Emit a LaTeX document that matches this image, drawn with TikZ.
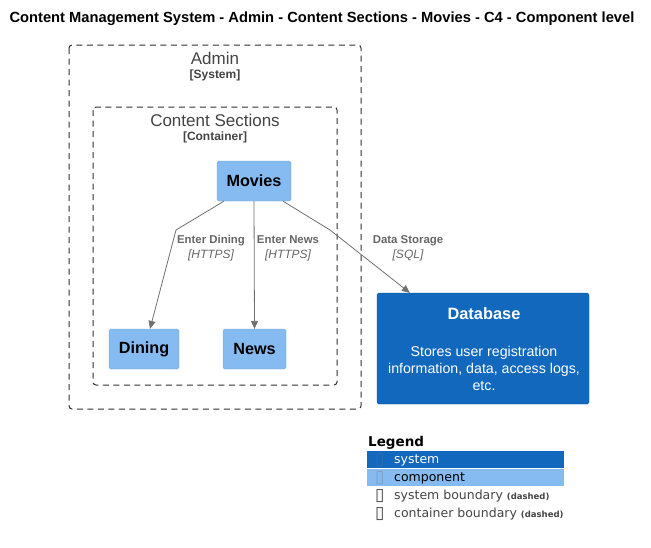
\documentclass[tikz,border=0pt]{standalone}
\usepackage{fontspec}
\setmainfont{Liberation Sans}
\newfontfamily\symfont{DejaVu Sans}
\usepackage{xcolor}
\usetikzlibrary{positioning, arrows.meta, calc}

\definecolor{sysblue}{HTML}{1168BD}
\definecolor{compblue}{HTML}{85BBF0}
\definecolor{edgegray}{HTML}{707070}
\definecolor{labelgray}{HTML}{666666}
\definecolor{boundgray}{HTML}{444444}

\begin{document}
\begin{tikzpicture}[x=1pt, y=-1pt,
    componentnode/.style={rectangle, rounded corners=1.5pt, fill=compblue, draw=compblue!85!black, line width=0.3pt, font=\fontsize{16.2}{18}\selectfont\bfseries, text=black},
    systemnode/.style={rectangle, rounded corners=1.5pt, fill=sysblue, draw=sysblue!85!black, line width=0.3pt, text=white, align=center},
    boundarybox/.style={draw=boundgray!70!black, dash pattern=on 6pt off 4.5pt, rounded corners=3pt, line width=1pt},
    relline/.style={draw=edgegray, line width=0.8pt, -{Triangle[length=8pt, width=7pt]}},
    rellabel/.style={text=labelgray, align=center, font=\fontsize{11.4}{15}\selectfont\bfseries},
    legendrow/.style={anchor=west, minimum width=197pt, minimum height=17pt, inner sep=0pt},
    legendtext/.style={anchor=west, inner sep=0pt, font=\symfont\fontsize{12.5}{14}\selectfont},
    legendbox/.style={anchor=west, inner sep=0pt, font=\symfont\fontsize{17}{17}\selectfont}
]
\useasboundingbox (0,0) rectangle (651,547);

% title
\node[font=\fontsize{14.7}{17}\selectfont\bfseries](title) at (322,19){Content Management System - Admin - Content Sections - Movies - C4 - Component level};

% boundaries
\draw[boundarybox] (69,45) rectangle (361,409);
\node[text=boundgray, font=\fontsize{17}{19}\selectfont](admin) at (215,58){Admin};
\node[text=boundgray, font=\fontsize{12}{14}\selectfont\bfseries](admintype) at (215,75){[System]};

\draw[boundarybox] (93,107) rectangle (337,385);
\node[text=boundgray, font=\fontsize{17}{19}\selectfont](sections) at (215,120){Content Sections};
\node[text=boundgray, font=\fontsize{12}{14}\selectfont\bfseries](sectionstype) at (215,137){[Container]};

% components
\node[componentnode, minimum width=74pt, minimum height=40pt](movies) at (254,181){Movies};
\node[componentnode, minimum width=70pt, minimum height=40pt](dining) at (144,349){Dining};
\node[componentnode, minimum width=63pt, minimum height=40pt](news) at (254.5,349){News};

% database
\node[systemnode, minimum width=212pt, minimum height=111pt](db) at (483,348.5){};
\node[text=white, font=\fontsize{16.4}{18}\selectfont\bfseries](dbtitle) at (484,314){Database};
\node[text=white, align=center, font=\fontsize{14.2}{17}\selectfont](dbdesc) at (484,368){Stores user registration\\information, data, access logs,\\etc.};

% relations
\coordinate (bendDining) at (176,230);
\coordinate (bendDb) at (330,230);
\draw[relline] ($(movies.south)+(-30,0)$) -- (bendDining) -- ($(dining.north)+(6,0)$);
\draw[relline] (movies.south) -- (news.north);
\draw[relline] ($(movies.south)+(29,0)$) -- (bendDb) -- ($(db.north west)+(33,0)$);

\node[rellabel](diningLbl) at (211,248){Enter Dining\\{\normalfont\itshape\fontsize{12}{15}\selectfont [HTTPS]}};
\node[rellabel](newsLbl) at (288,248){Enter News\\{\normalfont\itshape\fontsize{12}{15}\selectfont [HTTPS]}};
\node[rellabel](dbLbl) at (408,248){Data Storage\\{\normalfont\itshape\fontsize{12}{15}\selectfont [SQL]}};

% legend
\node[anchor=west, inner sep=0pt, font=\symfont\fontsize{13.5}{15}\selectfont\bfseries](legend) at (368,443){Legend};
\node[legendrow, fill=sysblue](lgSystem) at (367,459.5){};
\node[legendrow, fill=compblue](lgComp) at (367,477.5){};
\node[legendbox, text=sysblue!75!gray](lgBox1) at (375,460){▯};
\node[legendtext, text=white](lgText1) at (394,460){system};
\node[legendbox, text=compblue!55!gray](lgBox2) at (375,478){▯};
\node[legendtext, text=black](lgText2) at (394,478){component};
\node[legendbox, text=boundgray](lgBox3) at (375,496){▯};
\node[legendtext, text=boundgray](lgText3) at (394,496){system boundary {\fontsize{8.5}{10}\selectfont\bfseries(dashed)}};
\node[legendbox, text=boundgray](lgBox4) at (375,514){▯};
\node[legendtext, text=boundgray](lgText4) at (394,514){container boundary {\fontsize{8.5}{10}\selectfont\bfseries(dashed)}};
\end{tikzpicture}
\end{document}
